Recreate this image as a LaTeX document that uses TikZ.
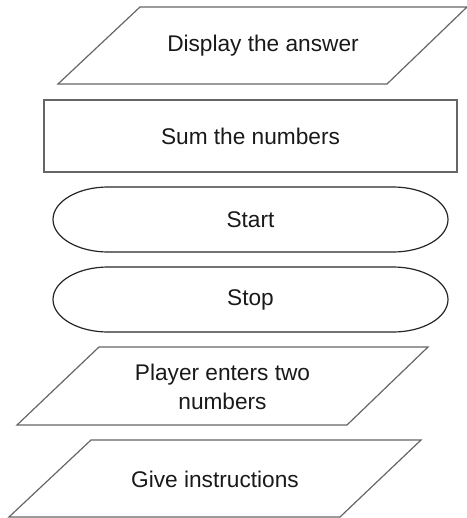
\documentclass[tikz,border=0pt]{standalone}
\usepackage{fontspec}
\setmainfont{Liberation Sans}
\usepackage{xcolor}
\usepackage{tikz}
\usetikzlibrary{positioning}

\begin{document}
\begin{tikzpicture}[x=0.75pt, y=-0.75pt,
    iobox/.style={draw=black!60, line width=0.9pt, line join=miter},
    procbox/.style={draw=black!60, line width=0.9pt},
    termbox/.style={draw=black!85, line width=0.9pt},
    txt/.style={text=black!90, font=\fontsize{17}{21.5}\selectfont, align=center, inner sep=0pt}]
    \useasboundingbox (0,0) rectangle (467,518);

    % Output: display the answer (parallelogram)
    \draw[iobox] (58,84) -- (140,7) -- (467,7) -- (387,84) -- cycle;
    \node[txt] (display) at (263,45.5) {Display the answer};

    % Process box
    \draw[procbox] (44,100) rectangle (457,172);
    \node[txt] (sum) at (250.5,136) {Sum the numbers};

    % Terminators
    \draw[termbox] (108,187) -- (393,187) arc[start angle=-90, end angle=90, x radius=55, y radius=32.5]
        -- (108,252) arc[start angle=90, end angle=270, x radius=55, y radius=32.5] -- cycle;
    \node[txt] (start) at (250.5,219.5) {Start};

    \draw[termbox] (108,267) -- (393,267) arc[start angle=-90, end angle=90, x radius=55, y radius=32.5]
        -- (108,332) arc[start angle=90, end angle=270, x radius=55, y radius=32.5] -- cycle;
    \node[txt] (stop) at (250.5,299.5) {Stop};

    % Input: two numbers
    \draw[iobox] (17,425) -- (99,347) -- (428,347) -- (347,425) -- cycle;
    \node[txt] (input) at (222.5,387) {Player enters two\\numbers};

    % Output: instructions
    \draw[iobox] (9,517) -- (91,440) -- (421,440) -- (340,517) -- cycle;
    \node[txt] (instr) at (215,479) {Give instructions};
\end{tikzpicture}
\end{document}
